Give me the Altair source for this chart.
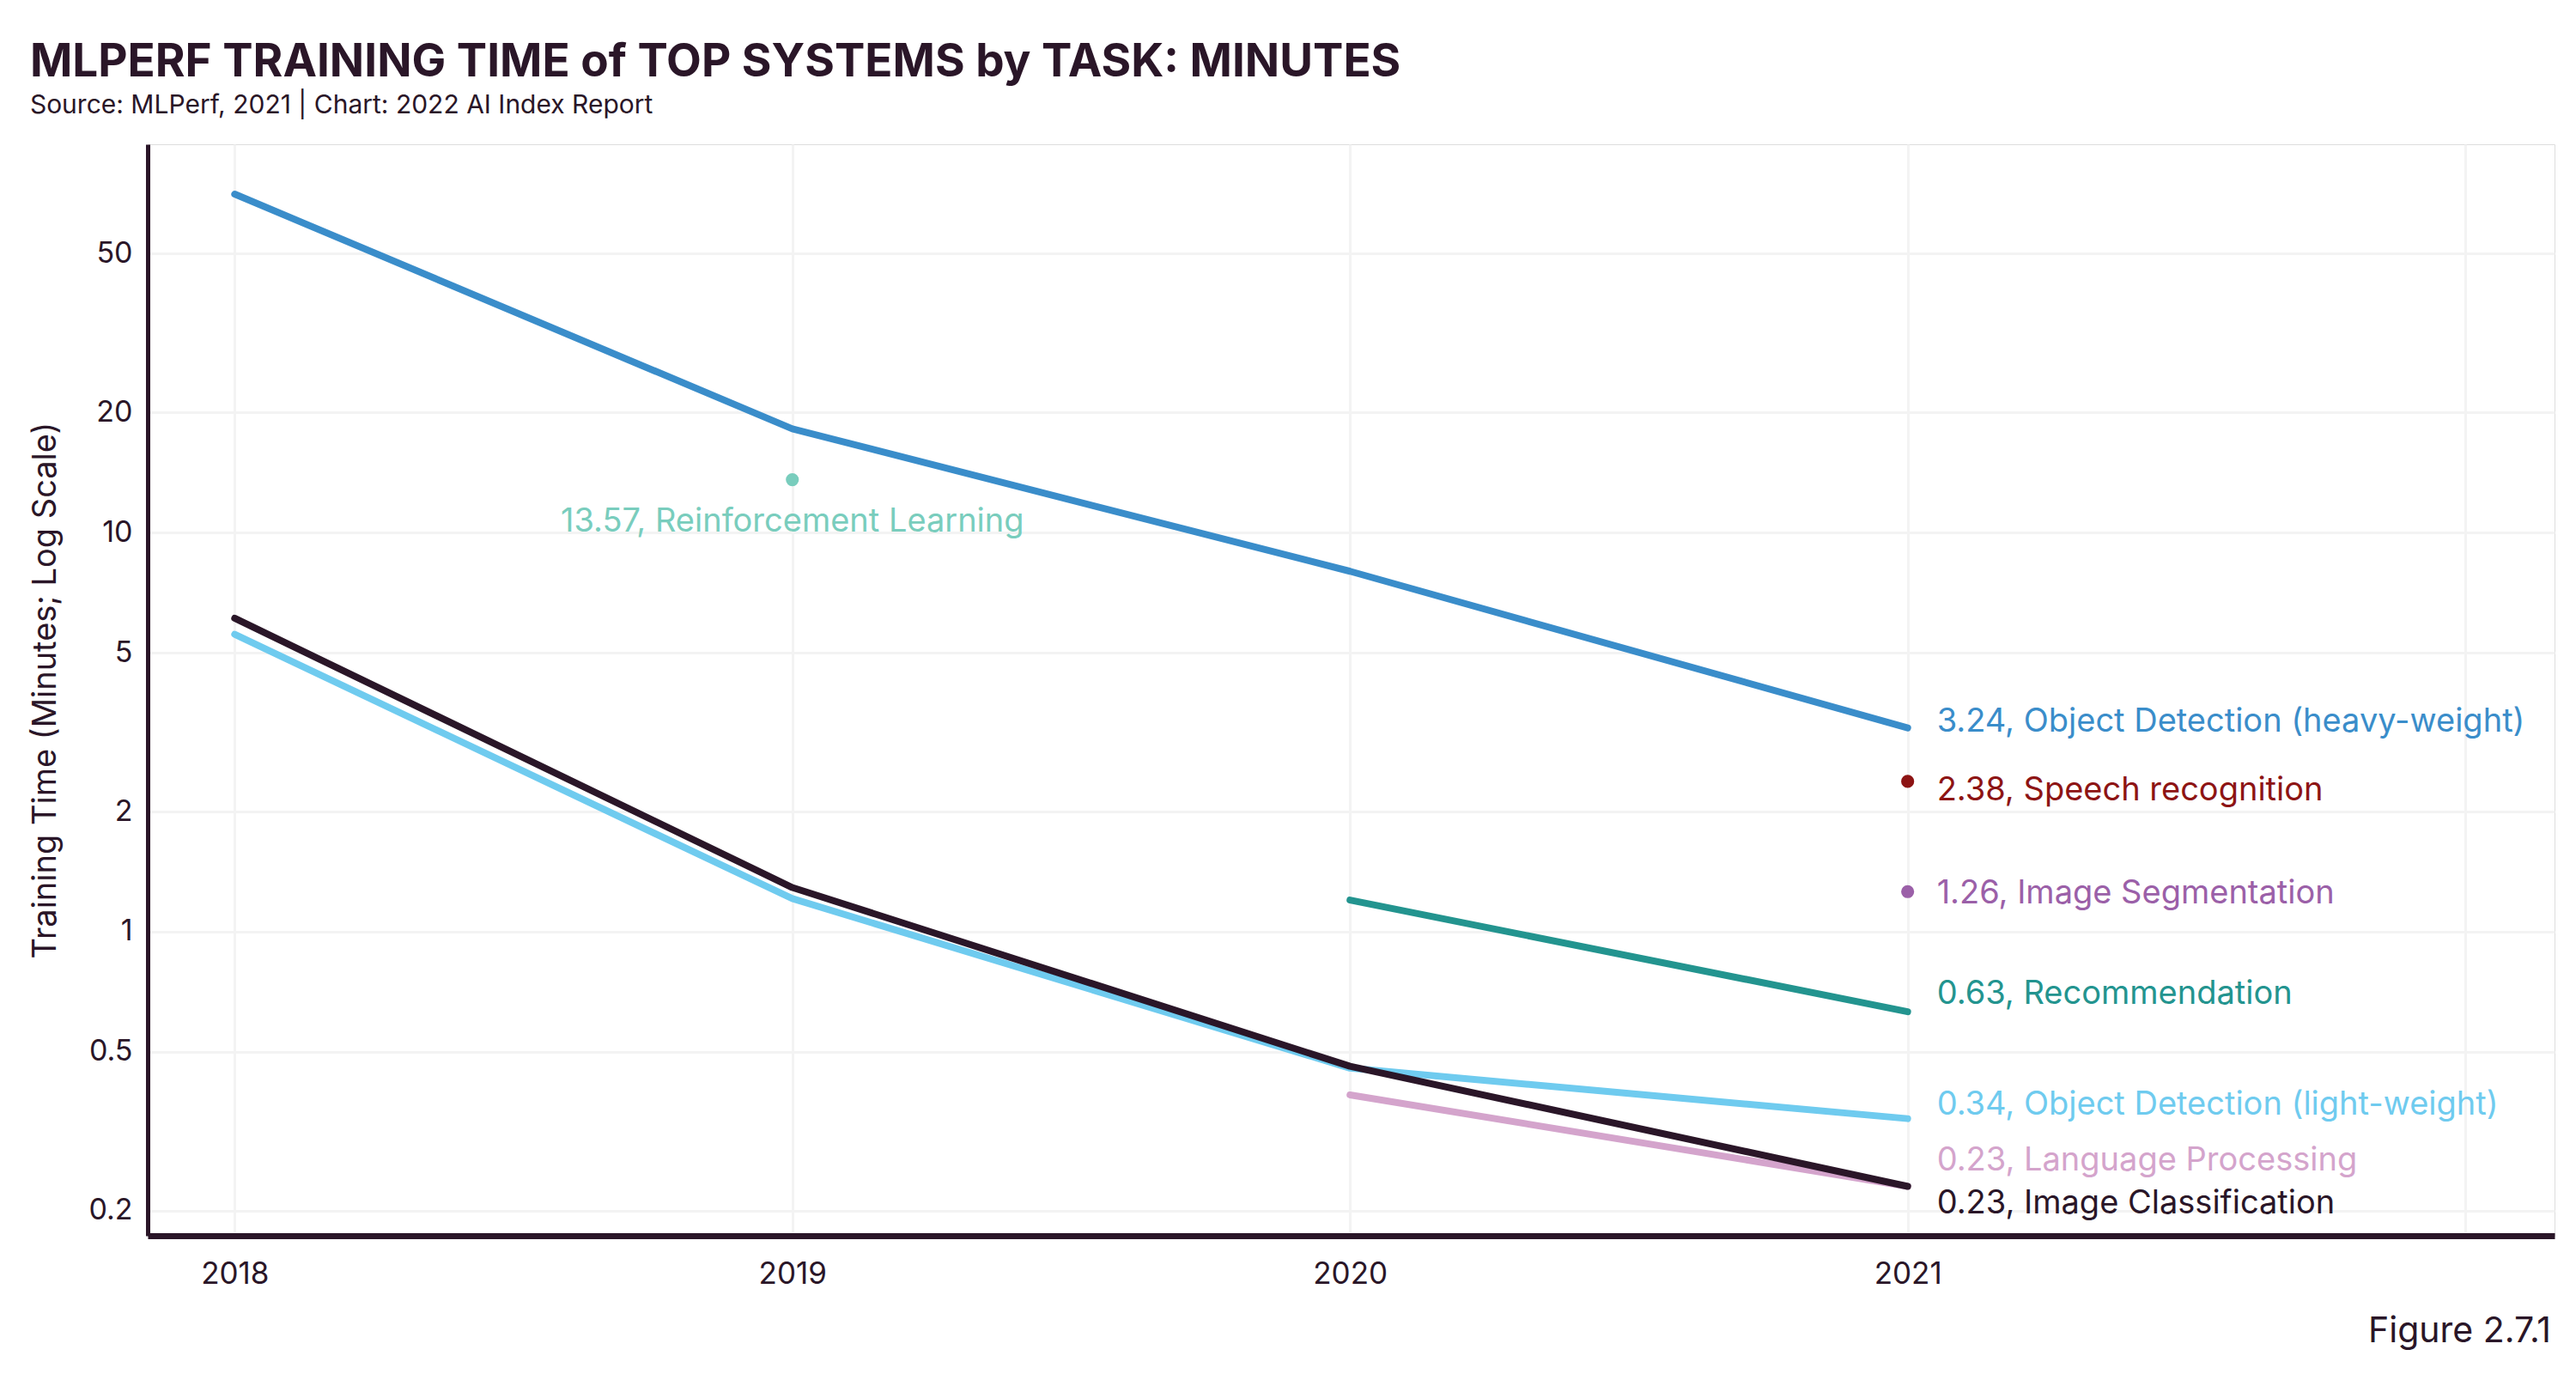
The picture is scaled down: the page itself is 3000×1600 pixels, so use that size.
import altair as alt
import pandas as pd

years = [2018, 2019, 2020, 2021]

series_names = [
    "Object Detection (heavy-weight)",
    "Recommendation",
    "Object Detection (light-weight)",
    "Language Processing",
    "Image Classification",
]
series_values = {
    "Object Detection (heavy-weight)": [70.5, 18.2, 8.0, 3.24],
    "Recommendation": [None, None, 1.2, 0.63],
    "Object Detection (light-weight)": [5.56, 1.21, 0.455, 0.34],
    "Language Processing": [None, None, 0.39, 0.23],
    "Image Classification": [6.1, 1.29, 0.46, 0.23],
}

point_names = ["Reinforcement Learning", "Speech recognition", "Image Segmentation"]
point_years = [2019, 2021, 2021]
point_values = [13.57, 2.38, 1.26]

label_names = [
    "Object Detection (heavy-weight)",
    "Speech recognition",
    "Image Segmentation",
    "Recommendation",
    "Object Detection (light-weight)",
    "Language Processing",
    "Image Classification",
]
label_values = [3.24, 2.38, 1.26, 0.63, 0.34, 0.23, 0.23]

colors = {
    "Object Detection (heavy-weight)": "#3a8dca",
    "Recommendation": "#23948f",
    "Object Detection (light-weight)": "#6fcbef",
    "Language Processing": "#d4a4cc",
    "Image Classification": "#2a1628",
    "Reinforcement Learning": "#79cdbd",
    "Speech recognition": "#8d1414",
    "Image Segmentation": "#9b60a8",
}
label_dy = {
    "Object Detection (heavy-weight)": -7,
    "Speech recognition": 11,
    "Image Segmentation": 3,
    "Recommendation": -20,
    "Object Detection (light-weight)": -16,
    "Language Processing": -30,
    "Image Classification": 20,
}

FONT = "Inter"
DARK = "#2a1628"
W, H = 2803, 1271

rows = []
for s in series_names:
    for y, v in zip(years, series_values[s]):
        if v is not None:
            rows.append({"year": y, "value": v, "series": s})
lines_df = pd.DataFrame(rows)
points_df = pd.DataFrame({"year": point_years, "value": point_values, "series": point_names})
labels_df = pd.DataFrame({"year": [2021] * len(label_names), "value": label_values, "series": label_names})
labels_df["text"] = labels_df.apply(lambda r: f"{r['value']:.2f}, {r['series']}", axis=1)
rl_df = points_df[points_df.series == "Reinforcement Learning"].copy()
rl_df["text"] = rl_df.apply(lambda r: f"{r['value']:.2f}, {r['series']}", axis=1)

dom = list(colors.keys())
rng = list(colors.values())
color = alt.Color("series:N", scale=alt.Scale(domain=dom, range=rng), legend=None)

x = alt.X(
    "year:Q",
    scale=alt.Scale(domain=[2017.844, 2022.16], nice=False, zero=False),
    axis=alt.Axis(
        values=[2018, 2019, 2020, 2021, 2022],
        format="d",
        labelExpr="datum.value == 2022 ? '' : datum.label",
        title=None,
        ticks=False,
        domainColor=DARK,
        domainWidth=7,
        labelFont=FONT,
        labelFontSize=35,
        labelColor=DARK,
        labelPadding=27,
        grid=True,
        gridColor="#f3f3f3",
        gridWidth=3,
    ),
)
y = alt.Y(
    "value:Q",
    scale=alt.Scale(type="log", domain=[0.173, 94], nice=False),
    axis=alt.Axis(
        values=[0.2, 0.5, 1, 2, 5, 10, 20, 50],
        format="~g",
        title="Training Time (Minutes; Log Scale)",
        titleFont=FONT,
        titleFontSize=38,
        titleFontWeight="normal",
        titleColor=DARK,
        titlePadding=30,
        ticks=False,
        domainColor=DARK,
        domainWidth=5,
        labelFont=FONT,
        labelFontSize=34,
        labelColor=DARK,
        labelPadding=18,
        grid=True,
        gridColor="#f3f3f3",
        gridWidth=3,
    ),
)

# draw each series in sequence so the dark line sits on top
line_layers = [
    alt.Chart(lines_df[lines_df.series == s]).mark_line(strokeWidth=8, strokeCap="round", strokeJoin="round").encode(
        x=x, y=y, color=color
    )
    for s in series_names
]
points = alt.Chart(points_df).mark_circle(size=230, opacity=1).encode(x=x, y=y, color=color)

text_layers = []
for s in label_names:
    text_layers.append(
        alt.Chart(labels_df[labels_df.series == s]).mark_text(
            align="left", baseline="middle", dx=34, dy=label_dy[s], font=FONT, fontSize=38
        ).encode(x=x, y=y, color=color, text="text:N")
    )
rl_text = alt.Chart(rl_df).mark_text(
    align="center", baseline="middle", dy=49, font=FONT, fontSize=38
).encode(x=x, y=y, color=color, text="text:N")

fig_df = pd.DataFrame({"t": ["Figure 2.7.1"]})
fig_text = alt.Chart(fig_df).mark_text(
    align="right", baseline="alphabetic", font=FONT, fontSize=41, color=DARK
).encode(x=alt.value(W - 4), y=alt.value(H + 124), text="t:N")

chart = alt.layer(*line_layers, points, *text_layers, rl_text, fig_text).properties(
    width=W,
    height=H,
    title=alt.Title(
        "MLPERF TRAINING TIME of TOP SYSTEMS by TASK: MINUTES",
        subtitle="Source: MLPerf, 2021 | Chart: 2022 AI Index Report",
        anchor="start",
        frame="bounds",
        font=FONT,
        fontSize=53,
        fontWeight="bold",
        color=DARK,
        subtitleFont=FONT,
        subtitleFontSize=30,
        subtitleColor=DARK,
        subtitlePadding=8,
        offset=30,
    ),
    autosize=alt.AutoSizeParams(type="none"),
    padding={"left": 164, "top": 160, "right": 10, "bottom": 140},
).configure_view(stroke=None).configure(background="white")

chart.save("out.html", embed_options={"renderer": "svg", "actions": False})
